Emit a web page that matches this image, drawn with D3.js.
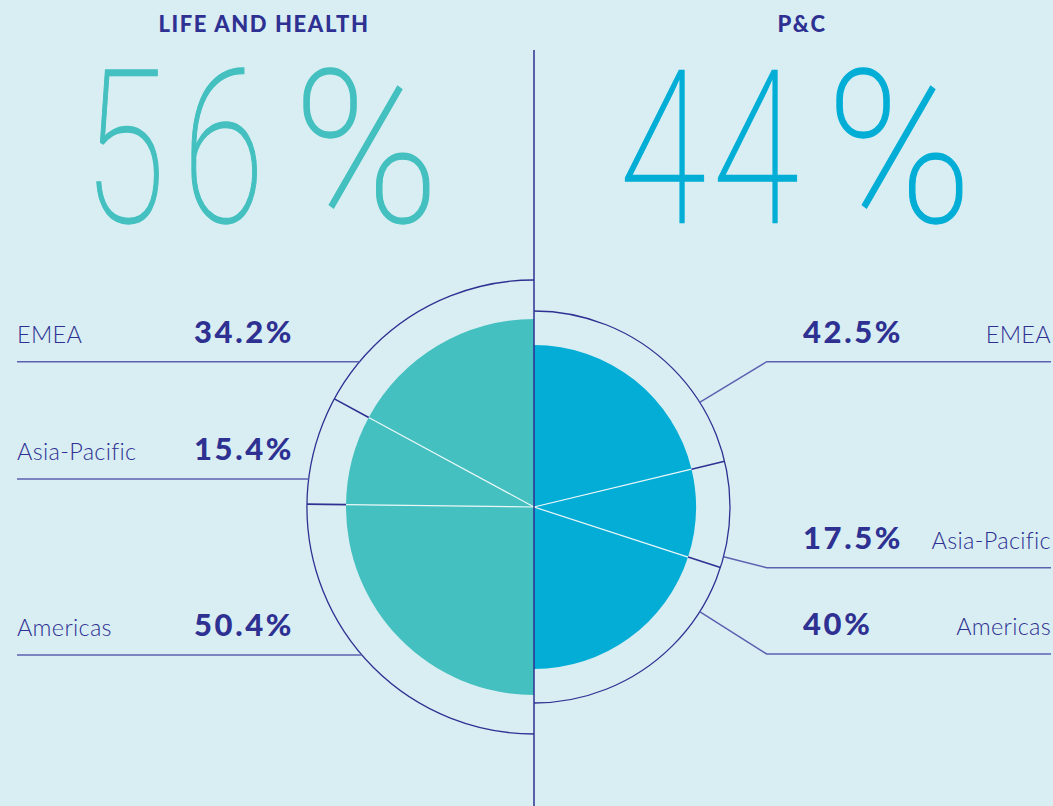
<!DOCTYPE html>
<html>
<head>
<meta charset="utf-8">
<script src="https://cdn.jsdelivr.net/npm/d3@7"></script>
<style>
  html, body { margin: 0; padding: 0; background: #D9EEF3; }
  #wrap { position: relative; width: 1053px; height: 806px; overflow: hidden; }
  svg { display: block; position: absolute; left: 0; top: 0; }
  .big { position: absolute; font-family: Roboto, sans-serif; font-weight: 100;
         font-size: 214px; line-height: 150px; height: 150px; white-space: nowrap;
         text-align: center; transform-origin: 50% 50%; }
</style>
</head>
<body>
<div id="wrap"><svg id="chart" width="1053" height="806"></svg></div>
<script>
// ---- data ----
const segmentTitles = ["LIFE AND HEALTH", "P&C"];
const segmentShares = [56, 44];
const leftCategories = ["EMEA", "Asia-Pacific", "Americas"];
const leftValues = [34.2, 15.4, 50.4];
const rightCategories = ["EMEA", "Asia-Pacific", "Americas"];
const rightValues = [42.5, 17.5, 40];

// ---- layout / style ----
const W = 1053, H = 806;
const cx = 534, cy = 507;
const NAVY = "#2E3192", LEAD = "#5B61B0";
const TEAL = "#43C0BF", BLUE = "#04ADD6";
const BG = "#D9EEF3";
const labelFont = "Lato, 'Open Sans', sans-serif";

const svg = d3.select("#chart");
svg.append("rect").attr("width", W).attr("height", H).attr("fill", BG);

const g = svg.append("g").attr("transform", `translate(${cx},${cy})`);

function half(values, start, end, rPie, rRing, color) {
  const pie = d3.pie().sort(null).value(d => d).startAngle(start).endAngle(end);
  const arcs = pie(values);
  const arc = d3.arc().innerRadius(0).outerRadius(rPie);
  g.append("g").selectAll("path").data(arcs).join("path")
    .attr("d", arc).attr("fill", color);
  const bounds = arcs.slice(1).map(a => a.startAngle);
  const pt = (a, r) => [r * Math.sin(a), -r * Math.cos(a)];
  g.append("g").selectAll("line").data(bounds).join("line")
    .attr("x1", 0).attr("y1", 0)
    .attr("x2", a => pt(a, rPie)[0]).attr("y2", a => pt(a, rPie)[1])
    .attr("stroke", "#EAF7F9").attr("stroke-width", 1.2);
  g.append("g").selectAll("line").data(bounds).join("line")
    .attr("x1", a => pt(a, rPie)[0]).attr("y1", a => pt(a, rPie)[1])
    .attr("x2", a => pt(a, rRing)[0]).attr("y2", a => pt(a, rRing)[1])
    .attr("stroke", NAVY).attr("stroke-width", 1.6);
  const ring = d3.arc().innerRadius(rRing).outerRadius(rRing)
    .startAngle(Math.min(start, end)).endAngle(Math.max(start, end));
  g.append("path").attr("d", ring()).attr("fill", "none")
    .attr("stroke", NAVY).attr("stroke-width", 1.3);
}

const rPieL = 188, rRingL = 227, rPieR = 162, rRingR = 196;
half(leftValues, 0, -Math.PI, rPieL, rRingL, TEAL);
half(rightValues, 0, Math.PI, rPieR, rRingR, BLUE);

function label(x, y, txt, anchor) {
  svg.append("text").attr("x", x).attr("y", y).attr("text-anchor", anchor)
    .attr("font-family", labelFont).attr("font-weight", 300).attr("font-size", 23.5)
    .attr("letter-spacing", 0.3)
    .attr("fill", NAVY).text(txt);
}
function valueText(x, y, txt) {
  svg.append("text").attr("x", x).attr("y", y)
    .attr("font-family", labelFont).attr("font-weight", 900).attr("font-size", 31)
    .attr("letter-spacing", 2.6)
    .attr("fill", NAVY).text(txt);
}

// ---- leaders & labels, left ----
const leftRowY = [361.7, 479, 655];
leftCategories.forEach((c, i) => {
  const y = leftRowY[i];
  const dy = y - cy;
  const xr = cx - Math.sqrt(rRingL * rRingL - dy * dy);
  svg.append("line").attr("x1", 17).attr("x2", xr).attr("y1", y).attr("y2", y)
    .attr("stroke", LEAD).attr("stroke-width", 1.5);
  label(17, y - 19, c, "start");
  valueText(194, y - 19, leftValues[i] + "%");
});

// ---- leaders & labels, right ----
const rightRowY = [361.7, 567.7, 654];
const rightAttachDeg = [57.7, 104.7, 122.3];
const elbowX = 766.7;
rightCategories.forEach((c, i) => {
  const y = rightRowY[i];
  const a = rightAttachDeg[i] * Math.PI / 180;
  const ax = cx + rRingR * Math.sin(a), ay = cy - rRingR * Math.cos(a);
  svg.append("polyline")
    .attr("points", `${ax},${ay} ${elbowX},${y} 1051,${y}`)
    .attr("fill", "none").attr("stroke", LEAD).attr("stroke-width", 1.5);
  label(1051, y - 19, c, "end");
  valueText(803, y - 19, rightValues[i] + "%");
});

// ---- divider ----
svg.append("line").attr("x1", cx).attr("x2", cx).attr("y1", 50).attr("y2", H)
  .attr("stroke", NAVY).attr("stroke-width", 1.5);

// ---- titles & big shares ----
const titleX = [264, 802];
const bigCenters = [[123.5, 222.5, 362], [662, 755, 894.5]];
const bigColor = [TEAL, "#03AED6"];
const bigBaseline = 222;
const FS = 214, LH = 150;
const baseOff = (LH - 1.171 * FS) / 2 + 0.927 * FS;
const wrap = d3.select("#wrap");
segmentTitles.forEach((t, i) => {
  svg.append("text").attr("x", titleX[i]).attr("y", 32).attr("text-anchor", "middle")
    .attr("font-family", labelFont).attr("font-weight", 900).attr("font-size", 22)
    .attr("letter-spacing", 1.6)
    .attr("fill", NAVY).text(t);
  const chars = String(segmentShares[i] + "%").split("");
  chars.forEach((ch, k) => {
    const sx = ch === "%" ? 0.92 : (ch === "4" ? 0.74 : 0.7);
    const adv = ch === "%" ? 150 : 116;
    wrap.append("div").attr("class", "big")
      .style("left", (bigCenters[i][k] - adv / 2) + "px")
      .style("width", adv + "px")
      .style("top", (bigBaseline - baseOff) + "px")
      .style("transform", `scaleX(${sx})`)
      .style("color", bigColor[i])
      .style("-webkit-text-stroke", `1.3px ${bigColor[i]}`)
      .text(ch);
  });
});
</script>
</body>
</html>
